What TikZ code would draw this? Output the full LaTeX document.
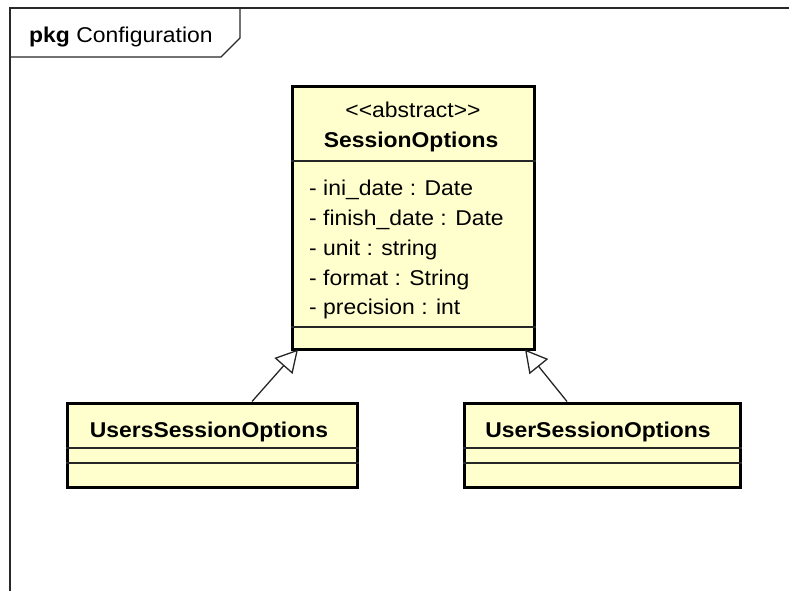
\documentclass[tikz,border=0pt]{standalone}
\usepackage{fontspec}
\setmainfont{Liberation Sans}[Ligatures=TeXOff, FakeStretch=1.07]
\usetikzlibrary{arrows.meta}
\definecolor{umlfill}{RGB}{255,255,206}
\definecolor{frameline}{RGB}{40,40,40}
\tikzset{
  classbox/.style={draw=black, line width=3bp, fill=umlfill, rectangle, inner sep=0pt},
  sepline/.style={draw=black!85, line width=1.3bp},
  txt/.style={inner sep=0pt, font=\fontsize{21.5}{24}\selectfont},
  btxt/.style={inner sep=0pt, font=\fontsize{21.5}{24}\selectfont\bfseries},
  gen/.style={draw=black!85, line width=1.3bp, -{Triangle[open, length=22bp, width=24bp, fill=white]}},
  frame/.style={draw=frameline, line width=1.3bp}
}
\begin{document}
\begin{tikzpicture}[x=1bp, y=-1bp]
\useasboundingbox (0,0) rectangle (789,591);
% package frame
\coordinate (fbl) at (10,591);
\coordinate (ftl) at (10,8);
\coordinate (ftr) at (789,8);
\draw[frame] (fbl) -- (ftl) -- (ftr);
\coordinate (tabA) at (240,8);
\coordinate (tabB) at (240,38);
\coordinate (tabC) at (221,57);
\coordinate (tabD) at (10,57);
\draw[frame] (tabA) -- (tabB) -- (tabC) -- (tabD);
\node[txt, anchor=base west] (pkg) at (29,43) {\textbf{pkg} Configuration};

% SessionOptions
\node[classbox, minimum width=242bp, minimum height=262bp] (so) at (413,218) {};
\draw[sepline] (so.west |- 0,161) -- (so.east |- 0,161);
\draw[sepline] (so.west |- 0,327) -- (so.east |- 0,327);
\node[txt, anchor=base] (st) at (413,118) {<<abstract>>};
\node[btxt, anchor=base] (sn) at (411,148) {SessionOptions};
\node[txt, anchor=base west] (a1) at (309,196) {- ini\_date : Date};
\node[txt, anchor=base west] (a2) at (309,226) {- finish\_date : Date};
\node[txt, anchor=base west] (a3) at (309,255) {- unit : string};
\node[txt, anchor=base west] (a4) at (309,285) {- format : String};
\node[txt, anchor=base west] (a5) at (309,314) {- precision : int};

% UsersSessionOptions
\node[classbox, minimum width=289bp, minimum height=84bp] (us) at (212.5,445) {};
\draw[sepline] (us.west |- 0,448) -- (us.east |- 0,448);
\draw[sepline] (us.west |- 0,463) -- (us.east |- 0,463);
\node[btxt, anchor=base] (usn) at (209,437) {UsersSessionOptions};

% UserSessionOptions
\node[classbox, minimum width=276bp, minimum height=84bp] (ue) at (602,445) {};
\draw[sepline] (ue.west |- 0,448) -- (ue.east |- 0,448);
\draw[sepline] (ue.west |- 0,463) -- (ue.east |- 0,463);
\node[btxt, anchor=base] (uen) at (598,437) {UserSessionOptions};

% generalizations
\draw[gen] ([xshift=39.5bp]us.north) -- ([xshift=-115bp,yshift=1bp]so.south);
\draw[gen] ([xshift=-35bp]ue.north) -- ([xshift=112bp,yshift=1bp]so.south);
\end{tikzpicture}
\end{document}
